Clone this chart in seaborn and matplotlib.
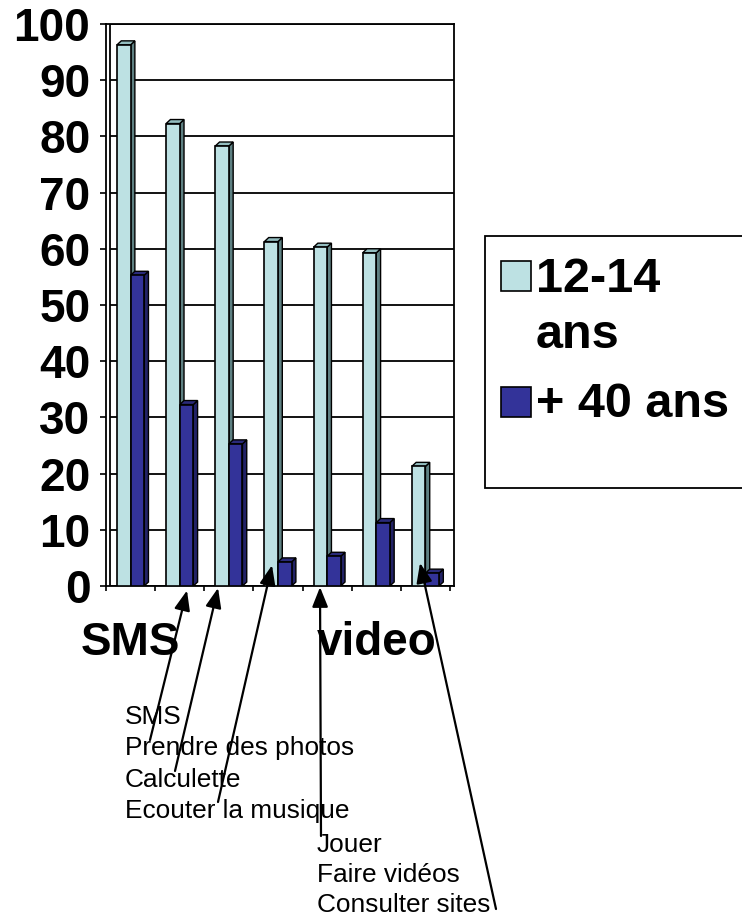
import matplotlib
matplotlib.use("Agg")
import matplotlib.pyplot as plt
import seaborn as sns
import pandas as pd
from matplotlib.patches import Polygon, Rectangle

# ---------------- data ----------------
categories = ["SMS", "Prendre des photos", "Calculette", "Ecouter la musique",
              "Jouer", "Faire vidéos", "Consulter sites"]
tick_labels = ["SMS", "", "", "", "", "video", ""]
series_names = ["12-14 ans", "+ 40 ans"]
values_12_14 = [97, 83, 79, 62, 61, 60, 22]
values_40 = [56, 33, 26, 5, 6, 12, 3]
yticks = [0, 10, 20, 30, 40, 50, 60, 70, 80, 90, 100]
legend_lines = [["12-14", "ans"], ["+ 40 ans"]]
notes_left = ["SMS", "Prendre des photos", "Calculette", "Ecouter la musique"]
notes_right = ["Jouer", "Faire vidéos", "Consulter sites"]

# ---------------- style ----------------
front_colors = ["#BDE1E3", "#333399"]
side_colors = ["#5E8082", "#222266"]
top_colors = ["#93BDBF", "#2A2A7A"]

sns.set_theme(style="white")
plt.rcParams["font.family"] = ["Liberation Sans", "DejaVu Sans"]

W, H = 742, 917
fig = plt.figure(figsize=(W / 100, H / 100), dpi=100)
fig.patch.set_facecolor("white")

ax_left, ax_right, ax_top, ax_bottom = 106, 454, 24, 586
ax = fig.add_axes([ax_left / W, 1 - ax_bottom / H,
                   (ax_right - ax_left) / W, (ax_bottom - ax_top) / H])

df = pd.DataFrame({
    "cat": categories * 2,
    "group": [series_names[0]] * len(categories) + [series_names[1]] * len(categories),
    "val": values_12_14 + values_40,
})

sns.barplot(data=df, x="cat", y="val", hue="group", order=categories,
            hue_order=series_names, palette=front_colors, saturation=1,
            width=0.553, gap=0, edgecolor="black", linewidth=1.2,
            legend=False, ax=ax, zorder=3)

xmax = 6.5 + 4 / 49.15
ax.set_xlim(-0.5, xmax)
ax.set_ylim(0, 100)

px_x = (xmax + 0.5) / (ax_right - ax_left)   # data units per pixel (x)
px_y = 100 / (ax_bottom - ax_top)            # data units per pixel (y)
dx, dy = 4.3 * px_x, 4.0 * px_y

# 3D faces for each bar: the value sits at the back edge of the top face
for gi, cont in enumerate(ax.containers):
    for r in cont:
        x0, w, h = r.get_x(), r.get_width(), r.get_height()
        hf = max(h - dy, 0.2)
        r.set_height(hf)
        side = Polygon([(x0 + w, 0), (x0 + w + dx, dy), (x0 + w + dx, hf + dy), (x0 + w, hf)],
                       closed=True, facecolor=side_colors[gi], edgecolor="black",
                       linewidth=1.0, zorder=2.9)
        top = Polygon([(x0, hf), (x0 + dx, hf + dy), (x0 + w + dx, hf + dy), (x0 + w, hf)],
                      closed=True, facecolor=top_colors[gi], edgecolor="black",
                      linewidth=1.0, zorder=2.9)
        ax.add_patch(side)
        ax.add_patch(top)

# grid on the back wall and frame
ax.hlines(yticks, -0.5 + dx, xmax, color="black", linewidth=1.3, zorder=1)
ax.grid(False)
for s in ax.spines.values():
    s.set_color("black")
    s.set_linewidth(1.3)
    s.set_visible(True)
ax.axvline(-0.5 + dx, color="black", linewidth=1.3, zorder=1)

ax.set_yticks(yticks)
ax.set_yticklabels([str(v) for v in yticks], fontsize=33, fontweight="bold")
ax.tick_params(axis="y", direction="out", length=4.3, width=1.2, pad=7,
               colors="black", left=True)
ax.set_xticks(range(len(categories)))
ax.set_xticklabels(tick_labels, fontsize=33, fontweight="bold")
ax.set_xticks([i - 0.5 for i in range(len(categories) + 1)], minor=True)
ax.tick_params(axis="x", which="major", length=0, pad=25, colors="black")
ax.tick_params(axis="x", which="minor", direction="out", length=3.6, width=1.2,
               colors="black", bottom=True)
ax.set_xlabel("")
ax.set_ylabel("")

# legend (manual, to keep first-line alignment)
fig.patches.append(Rectangle((485 / W, 1 - 488 / H), (W + 10 - 485) / W, (488 - 236) / H,
                             transform=fig.transFigure, facecolor="white",
                             edgecolor="black", linewidth=1.3, figure=fig))
patch_y = [261, 387]
text_base = [[292, 348], [417]]
for gi in range(2):
    fig.patches.append(Rectangle((501 / W, 1 - (patch_y[gi] + 30) / H), 30 / W, 30 / H,
                                 transform=fig.transFigure, facecolor=front_colors[gi],
                                 edgecolor="black", linewidth=1.2, figure=fig))
    for line, yb in zip(legend_lines[gi], text_base[gi]):
        fig.text(536 / W, 1 - yb / H, line, fontsize=35, fontweight="bold",
                 va="baseline", ha="left", color="black")

# annotation notes
for i, t in enumerate(notes_left):
    fig.text(125 / W, 1 - (723.5 + 31.6 * i) / H, t, fontsize=18.9,
             va="baseline", ha="left", color="black")
for i, t in enumerate(notes_right):
    fig.text(317 / W, 1 - (851.5 + 30.0 * i) / H, t, fontsize=18.9,
             va="baseline", ha="left", color="black")

# arrows: tip in data coords (category offset, value), tail in figure pixels
arrow_tips = [(1.148, -0.8), (1.78, -0.35), (2.878, 3.7), (3.855, -0.2), (5.89, 4.1)]
arrow_tails = [(150, 740), (175, 771), (218, 802), (321, 836), (496, 909)]
for (xt, yt), (px, py) in zip(arrow_tips, arrow_tails):
    ax.annotate("", xy=(xt, yt), xycoords="data",
                xytext=(px, H - py), textcoords="figure pixels",
                arrowprops=dict(arrowstyle="-|>,head_length=1.0,head_width=0.4",
                                color="black", lw=1.6, shrinkA=0, shrinkB=0),
                annotation_clip=False, zorder=6)

fig.savefig("out.png", dpi=100, facecolor="white")
